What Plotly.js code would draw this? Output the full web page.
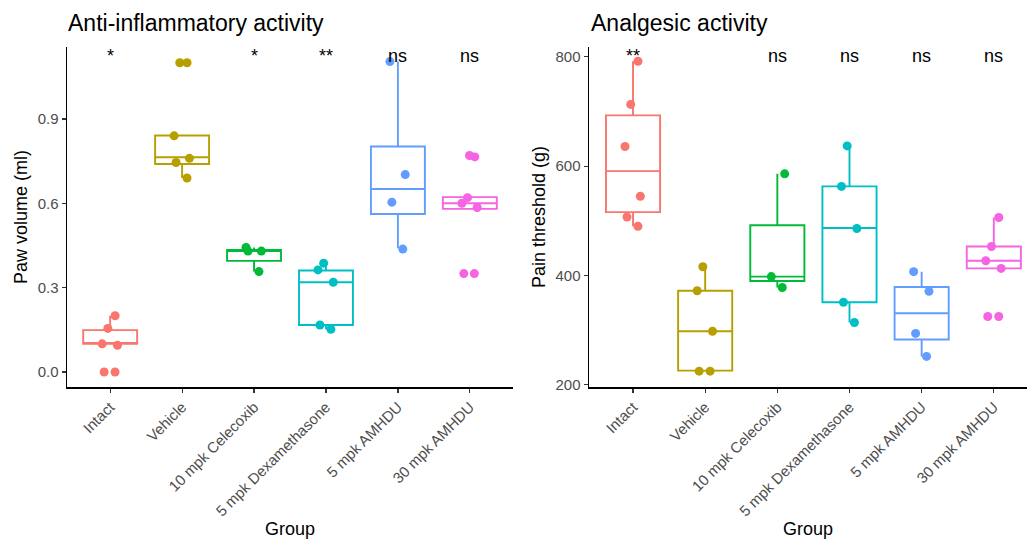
<!DOCTYPE html>
<html>
<head>
<meta charset="utf-8">
<script src="https://cdn.plot.ly/plotly-3.0.1.min.js"></script>
<style>html,body{margin:0;padding:0;background:#fff;}#chart{width:1027px;height:540px;}</style>
</head>
<body>
<div id="chart"></div>
<script>
// ---- data ----
var groups = ["Intact", "Vehicle", "10 mpk Celecoxib", "5 mpk Dexamethasone", "5 mpk AMHDU", "30 mpk AMHDU"];
var groupColors = ["#F8766D", "#B79F00", "#00BA38", "#00BFC4", "#619CFF", "#F564E3"];

// Anti-inflammatory activity: paw volume (ml)
var pawPoints = [
  [0.2, 0.155, 0.1, 0.095, 0, 0],
  [1.1, 1.1, 0.84, 0.76, 0.745, 0.69],
  [0.443, 0.43, 0.43, 0.357],
  [0.387, 0.363, 0.319, 0.167, 0.152],
  [1.104, 0.702, 0.604, 0.437],
  [0.77, 0.765, 0.62, 0.6, 0.585, 0.35, 0.35]
];
var pawQ1  = [0.1, 0.74, 0.395, 0.167, 0.562, 0.58];
var pawMed = [0.1, 0.764, 0.434, 0.319, 0.651, 0.6];
var pawQ3  = [0.149, 0.841, 0.434, 0.361, 0.802, 0.622];
var pawLo  = [0.1, 0.69, 0.357, 0.152, 0.44, 0.58];
var pawHi  = [0.2, 0.841, 0.443, 0.387, 1.104, 0.622];
var pawSig = ["*", "", "*", "**", "ns", "ns"];

// Analgesic activity: pain threshold (g)
var painPoints = [
  [792, 713, 636, 545, 507, 490],
  [416, 372, 298, 225, 225],
  [586, 398, 378],
  [637, 563, 486, 351, 314],
  [407, 371, 294, 252],
  [506, 453, 427, 413, 325, 325]
];
var painQ1  = [516, 226, 390, 351, 283, 413];
var painMed = [591, 298, 398, 487, 331, 427];
var painQ3  = [693, 372, 492, 563, 379, 453];
var painLo  = [490, 225, 378, 314, 252, 413];
var painHi  = [792, 416, 586, 637, 407, 506];
var painSig = ["**", "", "ns", "ns", "ns", "ns"];

// ---- build traces ----
var traces = [];
function addPanel(pts, q1, med, q3, lo, hi, xa, ya) {
  for (var i = 0; i < groups.length; i++) {
    traces.push({
      type: "box", x: [groups[i]], q1: [q1[i]], median: [med[i]], q3: [q3[i]],
      lowerfence: [lo[i]], upperfence: [hi[i]],
      xaxis: xa, yaxis: ya, width: 0.75, whiskerwidth: 0,
      line: {color: groupColors[i], width: 1.9},
      fillcolor: "rgba(255,255,255,0)", boxpoints: false,
      showlegend: false, name: groups[i]
    });
    traces.push({
      type: "box", x: pts[i].map(function () { return groups[i]; }), y: pts[i],
      xaxis: xa, yaxis: ya, width: 0.75, whiskerwidth: 0,
      boxpoints: "all", jitter: 0.35, pointpos: 0,
      line: {color: "rgba(0,0,0,0)", width: 0},
      fillcolor: "rgba(0,0,0,0)",
      marker: {color: groupColors[i], size: 9, opacity: 1},
      hoveron: "points", showlegend: false, name: groups[i]
    });
  }
}
addPanel(pawPoints, pawQ1, pawMed, pawQ3, pawLo, pawHi, "x", "y");
addPanel(painPoints, painQ1, painMed, painQ3, painLo, painHi, "x2", "y2");

// ---- annotations ----
var annotations = [];
function addSig(sig, xa, ya) {
  for (var i = 0; i < groups.length; i++) {
    if (!sig[i]) continue;
    annotations.push({
      text: sig[i], x: groups[i], xref: xa, y: 0.973, yref: ya + " domain",
      xanchor: "center", yanchor: "middle", showarrow: false,
      font: {family: "Liberation Sans, Arial, sans-serif", size: 18, color: "#000"}
    });
  }
}
addSig(pawSig, "x", "y");
addSig(painSig, "x2", "y2");
annotations.push({text: "Anti-inflammatory activity", xref: "paper", yref: "paper",
  x: 66 / 1027, y: 1 - 23 / 540, xanchor: "left", yanchor: "middle", showarrow: false,
  font: {family: "Liberation Sans, Arial, sans-serif", size: 23, color: "#000"}});
annotations.push({text: "Analgesic activity", xref: "paper", yref: "paper",
  x: 589 / 1027, y: 1 - 23 / 540, xanchor: "left", yanchor: "middle", showarrow: false,
  font: {family: "Liberation Sans, Arial, sans-serif", size: 23, color: "#000"}});

var tickFont = {family: "Liberation Sans, Arial, sans-serif", size: 15, color: "#4d4d4d"};
var titleFont = {family: "Liberation Sans, Arial, sans-serif", size: 18, color: "#000"};
var yDom = [1 - 387 / 540, 1 - 47 / 540];

function xAxis(domain, range, anchor) {
  return {
    domain: domain, range: range, anchor: anchor, type: "category",
    categoryorder: "array", categoryarray: groups,
    showline: true, linecolor: "#000", linewidth: 1.5, mirror: false,
    ticks: "outside", ticklen: 4, tickwidth: 1.2, tickcolor: "#333",
    showgrid: false, zeroline: false, tickangle: -45, tickfont: tickFont,
    automargin: false,
    title: {text: "Group", font: titleFont, standoff: 4}
  };
}
function yAxis(range, dtick, fmt, title, anchor) {
  return {
    domain: yDom, range: range, anchor: anchor, tick0: 0, dtick: dtick, tickformat: fmt,
    showline: true, linecolor: "#000", linewidth: 1.5,
    ticks: "outside", ticklen: 4, tickwidth: 1.2, tickcolor: "#333",
    showgrid: false, zeroline: false, tickfont: tickFont, automargin: false,
    title: {text: title, font: titleFont, standoff: 5}
  };
}

var layout = {
  width: 1027, height: 540,
  margin: {l: 0, r: 0, t: 0, b: 0},
  paper_bgcolor: "#fff", plot_bgcolor: "#fff",
  showlegend: false, boxmode: "overlay",
  font: {family: "Liberation Sans, Arial, sans-serif"},
  xaxis: xAxis([67 / 1027, 513 / 1027], [-0.6, 5.6], "y"),
  yaxis: yAxis([-0.0535, 1.156], 0.3, ".1f", "Paw volume (ml)", "x"),
  xaxis2: xAxis([589 / 1027, 1], [-0.61, 5.46], "y2"),
  yaxis2: yAxis([196, 818], 200, "d", "Pain threshold (g)", "x2"),
  annotations: annotations
};

Plotly.newPlot("chart", traces, layout, {staticPlot: true, displayModeBar: false});
</script>
</body>
</html>
